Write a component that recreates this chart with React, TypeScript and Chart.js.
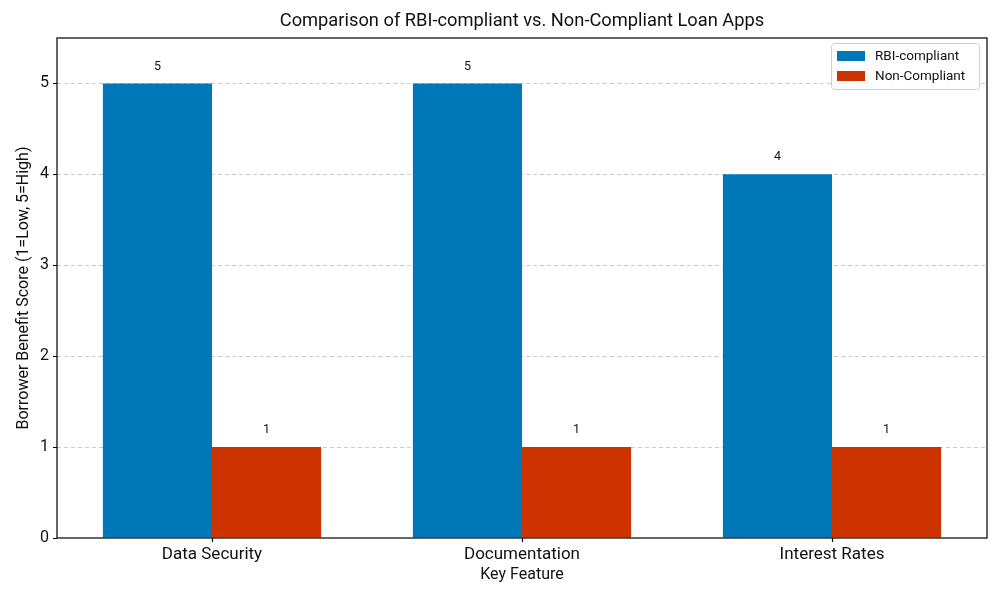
import React, { useEffect, useRef } from "react";
import { Chart, registerables } from "chart.js";

Chart.register(...registerables);

const categories = ["Data Security", "Documentation", "Interest Rates"];
const rbiCompliant = [5, 5, 4];
const nonCompliant = [1, 1, 1];
const yTicks = [0, 1, 2, 3, 4, 5];
const seriesNames = ["RBI-compliant", "Non-Compliant"];
const seriesColors = ["#0077b6", "#cc3300"];

const FONT = "Roboto, 'DejaVu Sans', sans-serif";

const customPlugin = {
  id: "custom",
  afterDraw(chart: any) {
    const { ctx, chartArea } = chart;
    ctx.save();
    // frame
    ctx.strokeStyle = "#000";
    ctx.lineWidth = 1.2;
    ctx.strokeRect(chartArea.left, chartArea.top, chartArea.right - chartArea.left, chartArea.bottom - chartArea.top);
    // x ticks
    const xs = chart.scales.x;
    ctx.beginPath();
    categories.forEach((_, i) => {
      const x = Math.round(xs.getPixelForTick(i)) + 0.5;
      ctx.moveTo(x, chartArea.bottom);
      ctx.lineTo(x, chartArea.bottom + 4);
    });
    ctx.stroke();
    // title
    ctx.fillStyle = "#111";
    ctx.font = `18.3px ${FONT}`;
    ctx.textAlign = "center";
    ctx.textBaseline = "middle";
    ctx.fillText("Comparison of RBI-compliant vs. Non-Compliant Loan Apps", (chartArea.left + chartArea.right) / 2, 21);
    // value labels
    ctx.font = `12.5px ${FONT}`;
    ctx.fillStyle = "#111";
    chart.data.datasets.forEach((ds: any, i: number) => {
      const meta = chart.getDatasetMeta(i);
      meta.data.forEach((bar: any, j: number) => {
        ctx.fillText(String(ds.data[j]), bar.x, bar.y - 17);
      });
    });
    // legend
    const lx = 831, ly = 43, lw = 148, lh = 46;
    ctx.fillStyle = "rgba(255,255,255,0.85)";
    ctx.strokeStyle = "#d0d0d0";
    ctx.lineWidth = 1;
    ctx.beginPath();
    (ctx as any).roundRect ? (ctx as any).roundRect(lx + 0.5, ly + 0.5, lw, lh, 3) : ctx.rect(lx + 0.5, ly + 0.5, lw, lh);
    ctx.fill();
    ctx.stroke();
    ctx.font = `13.5px ${FONT}`;
    ctx.textAlign = "left";
    seriesNames.forEach((name, i) => {
      const y = ly + 13 + i * 20;
      ctx.fillStyle = seriesColors[i];
      ctx.fillRect(lx + 6, y - 5, 28, 10);
      ctx.fillStyle = "#111";
      ctx.fillText(name, lx + 44, y + 1);
    });
    ctx.restore();
  },
};

export default function App() {
  const ref = useRef<HTMLCanvasElement>(null);
  useEffect(() => {
    if (!ref.current) return;
    const chart = new Chart(ref.current, {
      type: "bar",
      data: {
        labels: categories,
        datasets: [
          { label: seriesNames[0], data: rbiCompliant, backgroundColor: seriesColors[0], categoryPercentage: 0.704, barPercentage: 1 },
          { label: seriesNames[1], data: nonCompliant, backgroundColor: seriesColors[1], categoryPercentage: 0.704, barPercentage: 1 },
        ],
      },
      options: {
        animation: false,
        responsive: false,
        devicePixelRatio: 1,
        layout: { padding: { top: 38, right: 13, left: 0, bottom: 0 } },
        plugins: { legend: { display: false }, title: { display: false }, tooltip: { enabled: false } },
        scales: {
          x: {
            grid: { display: false },
            border: { display: false },
            ticks: { color: "#111", font: { family: FONT, size: 17 }, padding: -1 },
            title: { display: true, text: "Key Feature", color: "#111", font: { family: FONT, size: 16 }, padding: { top: 0, bottom: 15 } },
            afterFit: (s: any) => { s.height = 62; },
          },
          y: {
            min: 0,
            max: 5.5,
            afterBuildTicks: (s: any) => { s.ticks = yTicks.map((v) => ({ value: v })); },
            grid: {
              color: (c: any) => (c.tick && c.tick.value > 0 ? "#cccccc" : "rgba(0,0,0,0)"),
              tickColor: "#000",
              tickLength: 4,
              drawTicks: true,
            },
            border: { display: false, dash: [4, 3] },
            ticks: { color: "#111", font: { family: FONT, size: 16 }, padding: 4 },
            title: { display: true, text: "Borrower Benefit Score (1=Low, 5=High)", color: "#111", font: { family: FONT, size: 16 }, padding: { top: 14, bottom: 4 } },
            afterFit: (s: any) => { s.width = 57; },
          },
        },
      },
      plugins: [customPlugin],
    });
    return () => chart.destroy();
  }, []);
  return (
    <div style={{ position: "fixed", left: 0, top: 0, width: 1000, height: 600, background: "#fff" }}>
      <canvas ref={ref} width={1000} height={600} style={{ width: 1000, height: 600 }} />
    </div>
  );
}
